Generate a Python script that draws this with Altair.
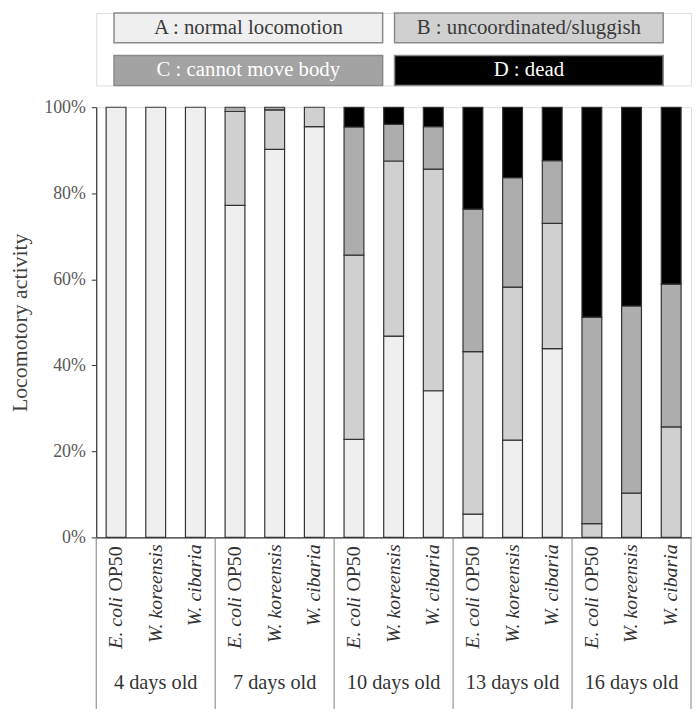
import altair as alt
import pandas as pd

# ---------------- data ----------------
groups = ["4 days old", "7 days old", "10 days old", "13 days old", "16 days old"]
strains = ["E. coli OP50", "W. koreensis", "W. cibaria"]
stages = ["A", "B", "C", "D"]
stage_labels = ["A : normal locomotion", "B : uncoordinated/sluggish",
                "C : cannot move body", "D : dead"]

# percentage of worms in each locomotion class, bar order = group x strain
A = [100, 100, 100, 77.2, 90.2, 95.5, 22.8, 46.8, 34.1, 5.4, 22.6, 43.9, 0, 0, 0]
B = [0, 0, 0, 21.8, 9.2, 4.5, 42.8, 40.7, 51.5, 37.8, 35.6, 29.1, 3.2, 10.3, 25.7]
C = [0, 0, 0, 1.0, 0.6, 0, 29.8, 8.5, 9.9, 33.1, 25.4, 14.6, 48.0, 43.5, 33.2]
D = [0, 0, 0, 0, 0, 0, 4.6, 4.0, 4.5, 23.7, 16.4, 12.4, 48.8, 46.2, 41.1]

fills = ["#efefef", "#d0d0d0", "#adadad", "#000000"]
legend_fills = ["#efefef", "#d0d0d0", "#a3a3a3", "#000000"]
legend_text_colors = ["#3a3a3a", "#3a3a3a", "#ffffff", "#ffffff"]

rows = []
for i in range(len(A)):
    for k, (s, vals) in enumerate(zip(stages, [A, B, C, D])):
        rows.append({"bar": i, "stage": s, "order": k, "value": vals[i],
                     "group": groups[i // 3], "strain": strains[i % 3]})
df = pd.DataFrame(rows)

bars_df = pd.DataFrame({"bar": list(range(len(A))),
                        "strain": [strains[i % 3] for i in range(len(A))]})
ecoli_df = bars_df[bars_df["strain"] == strains[0]].copy()
w_df = bars_df[bars_df["strain"] != strains[0]].copy()
grp_df = pd.DataFrame({"group": groups, "center": [3 * g + 1 for g in range(len(groups))]})
sep_df = pd.DataFrame({"sep": [3 * g - 0.5 for g in range(len(groups) + 1)]})

W, H = 600, 434
FONT = "Liberation Serif"
SP = 20  # species label font size

xscale = alt.Scale(domain=[-0.5, len(A) - 0.5], nice=False, zero=False)
xaxis = alt.Axis(labels=False, ticks=False, grid=False, title=None,
                 domainColor="#333333", domainWidth=1.2)

bars = alt.Chart(df).transform_filter("datum.value > 0").transform_stack(
    stack="value", groupby=["bar"], as_=["y0", "y1"],
    sort=[alt.SortField("order", order="ascending")]
).transform_calculate(
    xl="datum.bar - 0.25", xr="datum.bar + 0.25"
).mark_bar(stroke="#333333", strokeWidth=1.2).encode(
    x=alt.X("xl:Q", scale=xscale, axis=xaxis),
    x2="xr:Q",
    y=alt.Y("y0:Q", scale=alt.Scale(domain=[0, 100], nice=False),
            axis=alt.Axis(values=[0, 20, 40, 60, 80, 100],
                          labelExpr="datum.value + '%'",
                          title="Locomotory activity", grid=False,
                          tickSize=5, tickColor="#333333", domainColor="#333333",
                          domainWidth=1.2, labelFontSize=18, labelColor="#595959",
                          labelPadding=6, titleFontSize=22, titleColor="#404040",
                          titleFontWeight="normal", titlePadding=12, labelFont=FONT,
                          titleFont=FONT)),
    y2="y1:Q",
    color=alt.Color("stage:N", scale=alt.Scale(domain=stages, range=fills), legend=None),
)

seps = alt.Chart(sep_df).mark_rule(color="#7f7f7f", strokeWidth=1).encode(
    x=alt.X("sep:Q", scale=xscale, axis=xaxis),
    y=alt.value(H), y2=alt.value(H + 173),
)

op50 = alt.Chart(ecoli_df).mark_text(
    text="OP50", angle=270, align="right", baseline="middle",
    font=FONT, fontSize=SP, color="#333333"
).encode(x=alt.X("bar:Q", scale=xscale, axis=xaxis), y=alt.value(H + 9))

ecoli = alt.Chart(ecoli_df).mark_text(
    text="E. coli", angle=270, align="right", baseline="middle",
    font=FONT, fontSize=SP, fontStyle="italic", color="#333333"
).encode(x=alt.X("bar:Q", scale=xscale, axis=xaxis), y=alt.value(H + 9 + 51))

wlab = alt.Chart(w_df).mark_text(
    angle=270, align="right", baseline="middle",
    font=FONT, fontSize=SP, fontStyle="italic", color="#333333"
).encode(x=alt.X("bar:Q", scale=xscale, axis=xaxis), y=alt.value(H + 7),
         text="strain:N")

glab = alt.Chart(grp_df).mark_text(
    baseline="middle", align="center", font=FONT, fontSize=20.5, color="#333333"
).encode(x=alt.X("center:Q", scale=xscale, axis=xaxis), y=alt.value(H + 147),
         text="group:N")

main = alt.layer(bars, seps, op50, ecoli, wlab, glab).properties(width=W, height=H)

# ---------------- legend boxes ----------------
leg_df = pd.DataFrame({"stage": stages, "label": stage_labels,
                       "col": [0, 1, 0, 1], "row": [0, 0, 1, 1]})
lx = alt.X("col:O", axis=None,
           scale=alt.Scale(paddingInner=0.0424, paddingOuter=0.0813, align=0.39))
ly = alt.Y("row:O", axis=None, scale=alt.Scale(paddingInner=0.3, paddingOuter=0))
leg_rect = alt.Chart(leg_df).mark_rect(stroke="#8a8a8a", strokeWidth=1.5).encode(
    x=lx, y=ly,
    color=alt.Color("stage:N", scale=alt.Scale(domain=stages, range=legend_fills),
                    legend=None),
)
leg_text = alt.Chart(leg_df).mark_text(font=FONT, fontSize=21, baseline="middle").encode(
    x=lx, y=ly, text="label:N",
    color=alt.Color("stage:N", scale=alt.Scale(domain=stages, range=legend_text_colors),
                    legend=None),
)
legend = alt.layer(leg_rect, leg_text).resolve_scale(color="independent").properties(
    width=W, height=73)

chart = alt.vconcat(legend, main, spacing=10).properties(padding=0).configure_view(
    stroke=None).configure(font=FONT)

chart.save("out.html", embed_options={"renderer": "svg", "actions": False})
